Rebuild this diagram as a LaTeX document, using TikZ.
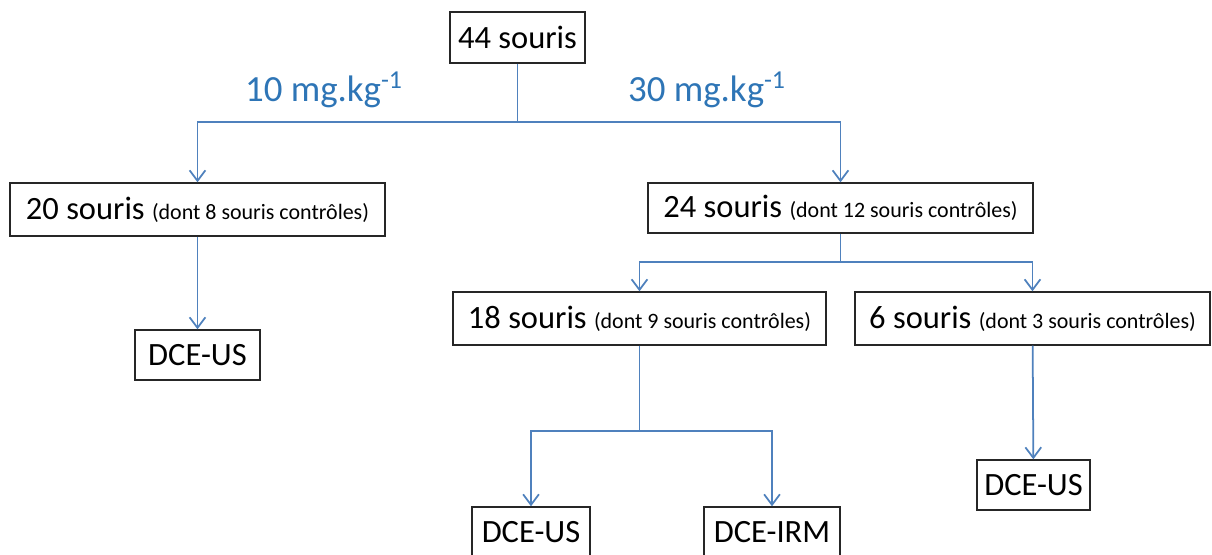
\documentclass[tikz,border=0pt]{standalone}
\usepackage{fontspec}
\setmainfont{Carlito}
\usetikzlibrary{positioning,arrows.meta,calc}
\definecolor{linkblue}{RGB}{79,129,189}
\definecolor{dosecol}{RGB}{46,117,182}
\newcommand{\ctrl}[1]{{\fontsize{12.5}{14}\selectfont(#1)}}

\begin{document}
\begin{tikzpicture}[x=0.02cm, y=-0.02cm,
  box/.style={draw=black!85, line width=0.8pt, inner sep=0pt, align=center,
    font=\fontsize{18.5}{22}\selectfont},
  link/.style={draw=linkblue, line width=1pt, -{Straight Barb[length=6pt,width=9pt]}},
  dose/.style={text=dosecol, font=\fontsize{21}{25}\selectfont}
]
  \useasboundingbox (0,0) rectangle (1212,554);
  \node[box, minimum width=135*0.02cm, minimum height=51*0.02cm] (n44) at (517.5,37.5) {44 souris};
  \node[box, minimum width=375*0.02cm, minimum height=53*0.02cm] (n20) at (197.5,209.5) {20 souris \ctrl{dont 8 souris contrôles}};
  \node[box, minimum width=385*0.02cm, minimum height=50*0.02cm] (n24) at (840.5,208) {24 souris \ctrl{dont 12 souris contrôles}};
  \node[box, minimum width=373*0.02cm, minimum height=53*0.02cm] (n18) at (639.5,318.5) {18 souris \ctrl{dont 9 souris contrôles}};
  \node[box, minimum width=355*0.02cm, minimum height=53*0.02cm] (n6) at (1032.5,318.5) {6 souris \ctrl{dont 3 souris contrôles}};
  \node[box, minimum width=125*0.02cm, minimum height=50*0.02cm] (us1) at (197.5,355) {DCE-US};
  \node[box, minimum width=118*0.02cm, minimum height=50*0.02cm] (us2) at (531,532) {DCE-US};
  \node[box, minimum width=136*0.02cm, minimum height=50*0.02cm] (irm) at (772,532) {DCE-IRM};
  \node[box, minimum width=113*0.02cm, minimum height=50*0.02cm] (us3) at (1033.5,485) {DCE-US};

  \node[dose] (dose10) at (324,90) {10 mg.kg\textsuperscript{-1}};
  \node[dose] (dose30) at (707,90) {30 mg.kg\textsuperscript{-1}};

  % branch points
  \coordinate (j44) at (517.5,122);
  \coordinate (j24) at (840.5,262);
  \coordinate (j18) at (639.5,431);

  \draw[link] (n44) -- (j44) -| (n20);
  \draw[link] (j44) -| (n24);
  \draw[link] (n20) -- (us1);
  \draw[link] (n24) -- (j24) -| (n18);
  \draw[link] (j24) -| (n6);
  \draw[link] (n18) -- (j18) -| (us2);
  \draw[link] (j18) -| (irm);
  \draw[link] (n6) -- (us3);
\end{tikzpicture}
\end{document}
